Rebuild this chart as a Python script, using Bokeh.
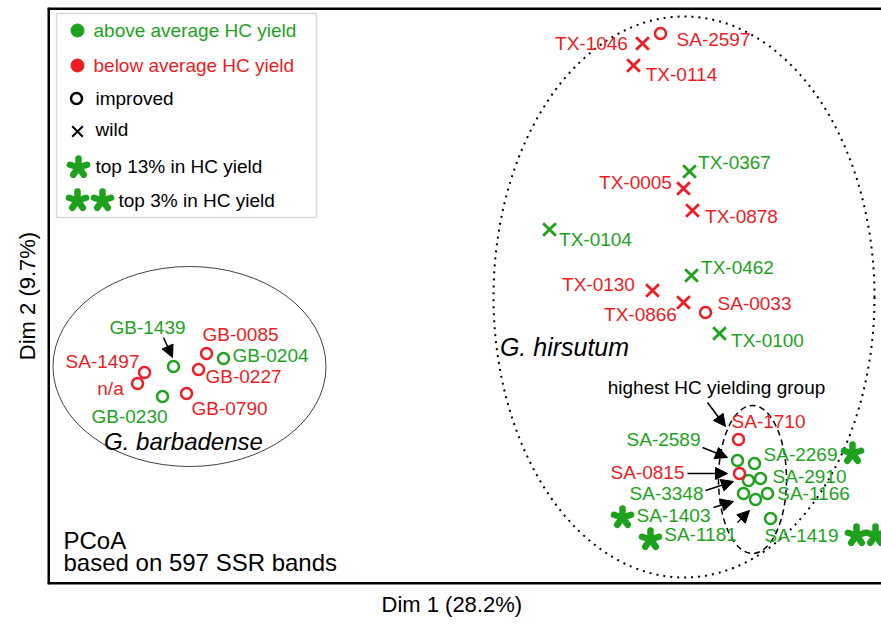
from bokeh.plotting import figure
from bokeh.models import Range1d, Arrow, NormalHead, ColumnDataSource, Span, BoxAnnotation, Title
from bokeh.core.properties import value
from bokeh.embed import file_html
from bokeh.resources import INLINE

GREEN = "#1ea21e"
RED = "#ee1c24"
FONT = "Liberation Sans"

# ---- data (Dim 1 / Dim 2 scores, arbitrary units) ----
imp_green_x = [126, 176, 115, 690, 707, 701, 713, 696, 708, 720, 723]
imp_green_y = [218, 226, 188, 124, 121, 104, 106, 91, 85, 91, 66]
imp_red_x = [159, 151, 97, 90, 139, 613, 658, 691, 692]
imp_red_y = [231, 215, 212, 201, 191, 551, 272, 145, 111]
wild_green_x = [642, 502, 644, 672]
wild_green_y = [413, 355, 309, 251]
wild_red_x = [595, 586, 636, 645, 605, 636]
wild_red_y = [541, 519, 396, 374, 294, 282]
star_x = [805, 575, 603, 809, 828]
star_y = [131, 67, 45, 49, 49]

label_text = ["GB-1439", "GB-0085", "GB-0204", "GB-0227", "SA-1497", "n/a", "GB-0230", "GB-0790",
              "TX-1046", "SA-2597", "TX-0114", "TX-0367", "TX-0005", "TX-0878", "TX-0104", "TX-0462",
              "TX-0130", "TX-0866", "SA-0033", "TX-0100", "SA-1710", "SA-2589", "SA-0815", "SA-2269",
              "SA-2910", "SA-1166", "SA-3348", "SA-1403", "SA-1181", "SA-1419"]
label_x = [100, 193, 223, 196, 55, 63, 82, 182,
           544, 666, 634, 687, 588, 694, 548, 690,
           551, 593, 707, 720, 721, 616, 600, 753,
           762, 766, 619, 626, 653, 754]
label_y = [257, 250, 229, 208, 223, 196, 168, 176,
           541, 545, 510, 422, 402, 368, 345, 317,
           300, 270, 281, 244, 163, 145, 112, 130,
           108, 91, 91, 69, 50, 49]
label_group = ["g", "r", "g", "r", "r", "r", "g", "r",
               "r", "r", "r", "g", "r", "r", "g", "g",
               "r", "r", "r", "g", "r", "g", "r", "g",
               "g", "g", "g", "g", "g", "g"]

arrow_x0 = [116, 660, 655, 640, 658, 666, 690]
arrow_y0 = [247, 182, 137, 111, 94, 77, 62]
arrow_x1 = [125, 678, 680, 680, 686, 686, 702]
arrow_y1 = [227, 158, 127, 111, 103, 83, 74]

# group ellipses: centre x, centre y, width, height
ell_barb = (142, 218, 273, 200)
ell_hirs = (636.5, 287.5, 381, 561)
ell_top = (705, 105, 68, 148)

legend_text = ["above average HC yield", "below average HC yield", "improved", "wild",
               "top 13% in HC yield", "top 3% in HC yield"]

p = figure(width=881, height=624, output_backend="svg", toolbar_location=None,
           x_range=Range1d(0, 834), y_range=Range1d(0, 577),
           min_border_left=47, min_border_right=0, min_border_top=7, min_border_bottom=40)
p.axis.visible = False
p.grid.visible = False
p.outline_line_color = None
p.background_fill_color = "white"

# frame (left, bottom, top)
for loc, dim in [(0, "height"), (0, "width"), (577, "width")]:
    p.add_layout(Span(location=loc, dimension=dim, line_color="black", line_width=5))

# ellipses
p.ellipse(x=ell_barb[0], y=ell_barb[1], width=ell_barb[2], height=ell_barb[3],
          fill_color=None, line_color="#444444", line_width=1)
p.ellipse(x=ell_hirs[0], y=ell_hirs[1], width=ell_hirs[2], height=ell_hirs[3],
          fill_color=None, line_color="black", line_width=2, line_dash="2 5")
p.ellipse(x=ell_top[0], y=ell_top[1], width=ell_top[2], height=ell_top[3],
          fill_color=None, line_color="black", line_width=1.5, line_dash="6 4")

# points
p.scatter(imp_green_x, imp_green_y, marker="circle", size=11, fill_color=None,
          line_color=GREEN, line_width=2.5)
p.scatter(imp_red_x, imp_red_y, marker="circle", size=11, fill_color=None,
          line_color=RED, line_width=2.5)
p.scatter(wild_green_x, wild_green_y, marker="x", size=18, line_color=GREEN, line_width=2.8)
p.scatter(wild_red_x, wild_red_y, marker="x", size=18, line_color=RED, line_width=2.8)

# asterisks (5 arms)
def add_stars(xs, ys):
    sx, sy, sa = [], [], []
    for x, y in zip(xs, ys):
        for a in [90, 162, 234, 306, 18]:
            sx.append(x); sy.append(y); sa.append(a)
    p.ray(x=sx, y=sy, length=9, length_units="screen", angle=sa, angle_units="deg",
          line_color=GREEN, line_width=6.5, line_cap="round")

add_stars(star_x, star_y)

# labels
src = ColumnDataSource(dict(x=label_x, y=label_y, text=label_text,
                            color=[GREEN if g == "g" else RED for g in label_group]))
p.text(x="x", y="y", text="text", source=src, text_color="color", text_font=value(FONT),
       text_font_size="19px", text_align="center", text_baseline="middle")

p.text(x=[136], y=[143], text=["G. barbadense"], text_font=value(FONT), text_font_style="italic",
       text_font_size="24px", text_align="center", text_baseline="middle", text_color="black")
p.text(x=[517], y=[238], text=["G. hirsutum"], text_font=value(FONT), text_font_style="italic",
       text_font_size="25px", text_align="center", text_baseline="middle", text_color="black")
p.text(x=[669], y=[197], text=["highest HC yielding group"], text_font=value(FONT),
       text_font_size="19px", text_align="center", text_baseline="middle", text_color="black")
p.text(x=[16, 16], y=[44, 22], text=["PCoA", "based on 597 SSR bands"], text_font=value(FONT),
       text_font_size="24px", text_align="left", text_baseline="alphabetic", text_color="black")

# arrows
asrc = ColumnDataSource(dict(x0=arrow_x0, y0=arrow_y0, x1=arrow_x1, y1=arrow_y1))
p.add_layout(Arrow(x_start="x0", y_start="y0", x_end="x1", y_end="y1", source=asrc,
                   line_color="black", line_width=1.5,
                   end=NormalHead(size=12, fill_color="black", line_color="black", line_width=1)))

# legend box
p.add_layout(BoxAnnotation(left=9, right=269, bottom=367, top=571, fill_color=None,
                           line_color="#808080", line_width=1.5, level="underlay"))
p.scatter([30], [554], marker="circle", size=13, fill_color=GREEN, line_color=GREEN)
p.scatter([30], [519], marker="circle", size=13, fill_color=RED, line_color=RED)
p.scatter([29], [486], marker="circle", size=11, fill_color=None, line_color="black", line_width=2.5)
p.scatter([30], [453], marker="x", size=15, line_color="black", line_width=2)
add_stars([31, 30, 55], [417, 384, 384])
p.text(x=[46, 46, 48, 48, 48, 71], y=[554, 519, 486, 455, 418, 384], text=legend_text,
       text_color=[GREEN, RED, "black", "black", "black", "black"], text_font=value(FONT),
       text_font_size="19px", text_align="left", text_baseline="middle")

# axis titles
p.add_layout(Title(text="Dim 1 (28.2%)", align="left", offset=334, text_font=FONT,
                   text_font_size="22px", text_font_style="normal", text_color="black",
                   standoff=10), "below")
p.add_layout(Title(text="Dim 2 (9.7%)", align="center", text_font=FONT,
                   text_font_size="22px", text_font_style="normal", text_color="black",
                   standoff=16), "left")

open("out.html", "w").write(file_html(p, INLINE))
